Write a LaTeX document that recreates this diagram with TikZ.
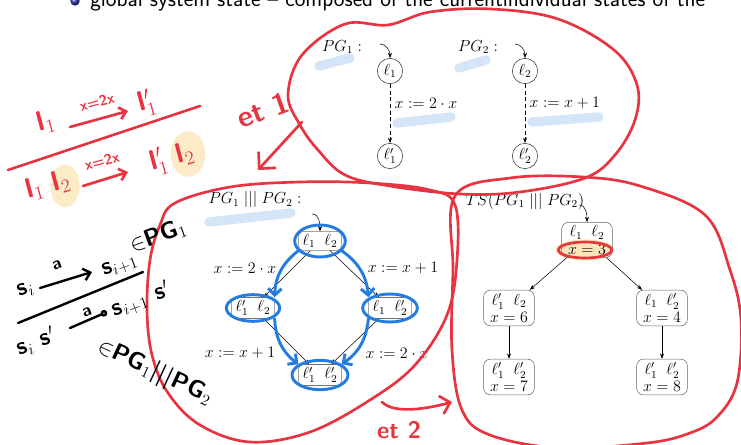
\documentclass[tikz,border=0pt]{standalone}
\usepackage{amsmath,amssymb}
\usepackage{xcolor}
\usepackage{tikz}
\usetikzlibrary{arrows.meta,calc,positioning,shapes.misc,shapes.geometric}

\definecolor{markred}{RGB}{232,52,64}
\definecolor{markblue}{RGB}{36,124,226}
\definecolor{hlblue}{RGB}{195,218,245}
\definecolor{hlyellow}{RGB}{252,230,185}
\definecolor{ballblue}{RGB}{50,50,170}

\tikzset{
  loc/.style={circle,draw=black!80,thin,minimum size=19pt,inner sep=0pt},
  pstate/.style={draw=black!55,rounded corners=3pt,thin,inner xsep=3pt,inner ysep=2pt},
  tstate/.style={draw=black!60,rounded corners=5pt,thin,align=center,inner sep=2.5pt,
    minimum width=38pt,font=\fontsize{12}{13}\selectfont},
  trans/.style={-{Stealth[length=4pt]},thin},
  redpen/.style={draw=markred,line width=2pt,line cap=round,line join=round},
  bluepen/.style={draw=markblue,line width=2.2pt,line cap=round,line join=round},
  hilite/.style={line width=7pt,line cap=round,draw=hlblue,opacity=.7},
  hand/.style={font=\fontsize{18}{18}\sffamily\bfseries,inner sep=0pt},
  bighand/.style={font=\fontsize{21}{21}\sffamily\bfseries,inner sep=0pt},
  smallhand/.style={font=\fontsize{11}{11}\sffamily\bfseries,inner sep=0pt},
}

\begin{document}
\begin{tikzpicture}[x=0.75pt,y=0.75pt,font=\fontsize{12}{14}\selectfont]
  \useasboundingbox (0,0) rectangle (741,-445);
  \clip (0,0) rectangle (741,-445);
  \fill[white] (0,0) rectangle (741,-445);

  % slide line, cut at the top
  \node[circle,inner sep=0pt,minimum size=7pt,ball color=ballblue] (bul) at (75,-1) {};
  \node[anchor=base west,inner sep=0pt,font=\fontsize{17}{19}\sffamily] (head) at (90,-7)
    {global system state -- composed of the currentindividual states of the};

  % marker highlights
  \draw[hilite] (319,-66) -- (350,-58);
  \draw[hilite] (459,-68) -- (486,-60);
  \draw[hilite] (397,-123) -- (451,-117);
  \draw[hilite] (532,-122) -- (599,-117);
  \draw[hilite] (209,-222) -- (291,-213);
  \fill[hlyellow] (585,-250) ellipse [x radius=22pt,y radius=8pt];
  \fill[hlyellow,opacity=.8] (65,-186) ellipse [x radius=11pt,y radius=16pt];
  \fill[hlyellow,opacity=.8] (188,-154) ellipse [x radius=13pt,y radius=17pt];

  % PG_1 and PG_2
  \node (pg1) at (342,-47) {$PG_1:$};
  \node[loc] (l1) at (390,-71) {$\ell_1$};
  \node[loc] (l1p) at (390,-156) {$\ell'_1$};
  \coordinate (i1) at (380,-44);
  \draw[trans] (i1) to[out=0,in=90] (l1);
  \draw[trans,densely dashed] (l1) -- node[right,pos=.33] (a1) {$x := 2\cdot x$} (l1p);

  \node (pg2) at (478,-47) {$PG_2:$};
  \node[loc] (l2) at (525,-71) {$\ell_2$};
  \node[loc] (l2p) at (525,-156) {$\ell'_2$};
  \coordinate (i2) at (515,-44);
  \draw[trans] (i2) to[out=0,in=90] (l2);
  \draw[trans,densely dashed] (l2) -- node[right,pos=.33] (a2) {$x := x+1$} (l2p);

  % PG_1 ||| PG_2
  \node (pgpar) at (255,-200) {$PG_1 \;|||\; PG_2:$};
  \node[pstate] (mt) at (320,-241) {$\ell_1\;\;\ell_2$};
  \node[pstate] (ml) at (253,-308) {$\ell'_1\;\;\ell_2$};
  \node[pstate] (mr) at (390,-308) {$\ell_1\;\;\ell'_2$};
  \node[pstate] (mb) at (320,-375) {$\ell'_1\;\;\ell'_2$};
  \coordinate (im) at (312,-214);
  \draw[trans] (im) to[out=0,in=90] (mt);
  \draw[trans] (mt) -- (ml);
  \draw[trans] (mt) -- (mr);
  \draw[trans] (ml) -- (mb);
  \draw[trans] (mr) -- (mb);
  \node (b1) at (245,-268) {$x := 2\cdot x$};
  \node (b2) at (403,-268) {$x := x+1$};
  \node (b3) at (240,-353) {$x := x+1$};
  \node (b4) at (397,-353) {$x := 2\cdot x$};

  % TS(PG_1 ||| PG_2)
  \node (tstitle) at (525,-201) {$TS(PG_1 \;|||\; PG_2)$};
  \node[tstate] (s0) at (587,-240) {$\ell_1\;\;\ell_2$\\$x=3$};
  \node[tstate] (s1) at (509,-308) {$\ell'_1\;\;\ell_2$\\$x=6$};
  \node[tstate] (s2) at (662,-308) {$\ell_1\;\;\ell'_2$\\$x=4$};
  \node[tstate] (s3) at (509,-377) {$\ell'_1\;\;\ell'_2$\\$x=7$};
  \node[tstate] (s4) at (662,-377) {$\ell'_1\;\;\ell'_2$\\$x=8$};
  \coordinate (is) at (579,-205);
  \draw[trans] (is) to[out=0,in=90] (s0);
  \draw[trans] (s0) -- (s1);
  \draw[trans] (s0) -- (s2);
  \draw[trans] (s1) -- (s3);
  \draw[trans] (s2) -- (s4);

  % blue pen
  \draw[bluepen] (mt) ellipse [x radius=19pt,y radius=12pt];
  \draw[bluepen] (ml) ellipse [x radius=20pt,y radius=10pt];
  \draw[bluepen] (mr) ellipse [x radius=20.5pt,y radius=10.5pt];
  \draw[bluepen] (mb) ellipse [x radius=21pt,y radius=11pt];
  \draw[bluepen,-{Straight Barb[length=5pt,width=10pt]}] (mt.south west) to[bend right=25] (ml.north east);
  \draw[bluepen,-{Straight Barb[length=5pt,width=10pt]}] (mt.south east) to[bend left=25] (mr.north west);
  \draw[bluepen,-{Straight Barb[length=5pt,width=10pt]}] (ml.south east) to[bend right=25] (mb.north west);
  \draw[bluepen,-{Straight Barb[length=5pt,width=10pt]}] (mr.south west) to[bend left=25] (mb.north east);

  % red pen: groups
  \draw[redpen] plot[smooth cycle,tension=.6] coordinates {(302,-55) (345,-24) (388,-25) (430,-12)
    (491,-9) (558,-19) (614,-50) (637,-85) (635,-120) (615,-155) (585,-178) (520,-192) (460,-194)
    (390,-186) (345,-175) (318,-150) (300,-125) (288,-95)};
  \draw[redpen] plot[smooth cycle,tension=.6] coordinates {(175,-203) (230,-187) (300,-182) (370,-183)
    (430,-190) (455,-205) (457,-260) (447,-315) (415,-365) (370,-400) (310,-432) (250,-442)
    (200,-425) (168,-393) (152,-355) (147,-310) (150,-260) (160,-225)};
  \draw[redpen] plot[smooth cycle,tension=.6] coordinates {(455,-196) (510,-178) (583,-177) (640,-186)
    (705,-215) (730,-270) (741,-320) (737,-383) (717,-417) (690,-433) (647,-443) (560,-448)
    (490,-435) (462,-410) (452,-350) (453,-270)};
  \draw[redpen] (585,-250) ellipse [x radius=20pt,y radius=6pt];

  % red pen: steps
  \node[markred,rotate=20,inner sep=0pt,font=\fontsize{22}{22}\sffamily\bfseries] (et1) at (263,-110) {et 1};
  \coordinate (e1s) at (302,-122);
  \coordinate (e1e) at (258,-170);
  \draw[redpen,-{Straight Barb[length=9pt,width=18pt]}] (e1s) -- (e1e);
  \node[markred,inner sep=0pt,font=\fontsize{18}{18}\sffamily\bfseries] (et2) at (399,-430) {et 2};
  \coordinate (e2s) at (382,-402);
  \coordinate (e2e) at (452,-402);
  \draw[redpen,-{Straight Barb[length=7pt,width=14pt]}] (e2s) .. controls (395,-415) and (430,-408) .. (e2e);

  % red pen: rule for PG_1
  \node[bighand,markred,rotate=15] (r1) at (46,-122) {l$_1$};
  \node[smallhand,markred,rotate=15] (rx1) at (97,-102) {x=2x};
  \coordinate (ra1) at (70,-127);
  \coordinate (rb1) at (128,-111);
  \draw[redpen,-{Straight Barb[length=5pt,width=9pt]}] (ra1) -- (rb1);
  \node[bighand,markred,rotate=15] (r2) at (147,-103) {l$'_1$};
  \coordinate (bar1) at (8,-170);
  \coordinate (bar2) at (200,-106);
  \draw[redpen] (bar1) -- (bar2);
  \node[bighand,markred,rotate=15] (r3) at (48,-185) {l$_1$ l$_2$};
  \node[smallhand,markred,rotate=15] (rx2) at (102,-161) {x=2x};
  \coordinate (ra2) at (83,-186);
  \coordinate (rb2) at (128,-172);
  \draw[redpen,-{Straight Barb[length=5pt,width=9pt]}] (ra2) -- (rb2);
  \node[bighand,markred,rotate=15] (r4) at (172,-158) {l$'_1$ l$_2$};

  % black pen: rule for PG_1 ||| PG_2
  \node[hand,rotate=20] (k1) at (158,-236) {$\in$PG$_1$};
  \node[hand,rotate=20] (k2) at (26,-290) {s$_i$};
  \node[rotate=20,inner sep=0pt,font=\fontsize{13}{13}\sffamily\bfseries] (ka) at (57,-265) {a};
  \coordinate (ka1) at (40,-288);
  \coordinate (kb1) at (92,-272);
  \draw[line width=1.8pt,line cap=round,-{Straight Barb[length=5pt,width=9pt]}] (ka1) -- (kb1);
  \node[hand,rotate=20] (k3) at (120,-266) {s$_{i+1}$};
  \coordinate (kbar1) at (18,-323);
  \coordinate (kbar2) at (143,-272);
  \draw[line width=1.8pt,line cap=round] (kbar1) -- (kbar2);
  \node[hand,rotate=20] (k4) at (36,-342) {s$_i$ s$'$};
  \node[rotate=20,inner sep=0pt,font=\fontsize{13}{13}\sffamily\bfseries] (kb) at (87,-312) {a};
  \coordinate (ka2) at (70,-328);
  \coordinate (kb2) at (107,-312);
  \draw[line width=1.8pt,line cap=round,-{Circle[open,length=5pt]}] (ka2) -- (kb2);
  \node[hand,rotate=20] (k5) at (141,-300) {s$_{i+1}$ s$'$};
  \node[hand,rotate=-25] (k6) at (155,-372) {$\in$PG$_1$|||PG$_2$};
\end{tikzpicture}
\end{document}
